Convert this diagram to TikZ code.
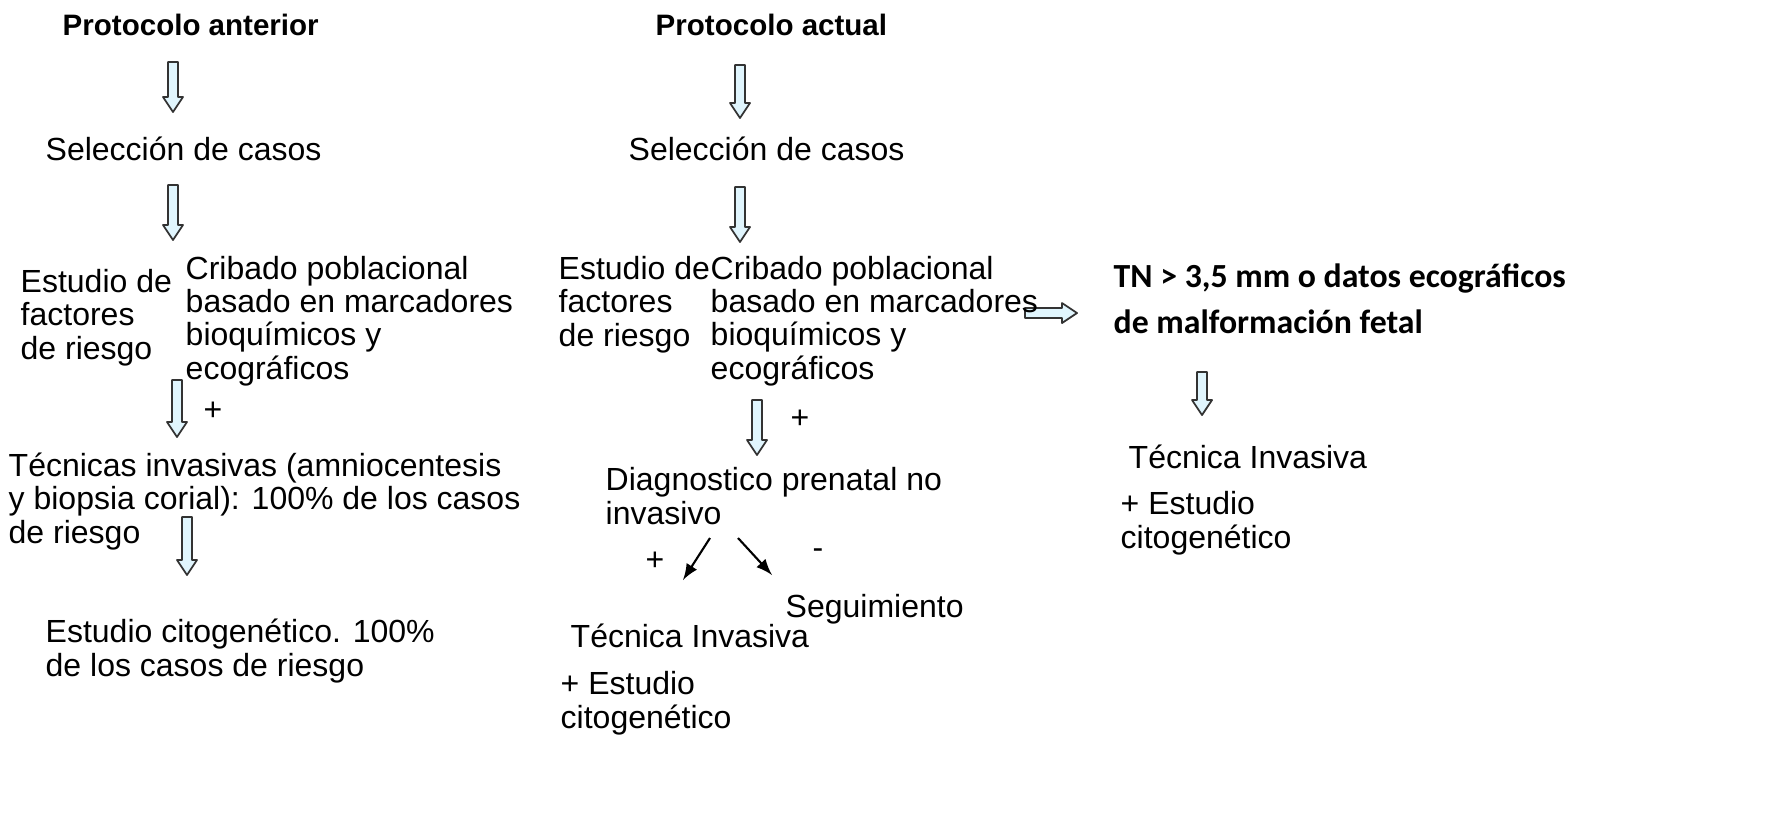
\documentclass[tikz,border=0pt]{standalone}
\usepackage{fontspec}
\setmainfont{Liberation Sans}
\newfontfamily\carlitofont{Carlito}
\begin{document}
\begin{tikzpicture}[x=0.01cm,y=-0.01cm,
  txt/.style={anchor=base west,align=left,inner sep=0pt,font=\fontsize{9.1pt}{9.4pt}\selectfont},
  hd/.style={txt,font=\bfseries\fontsize{8.4pt}{9.4pt}\selectfont},
  tn/.style={txt,font=\carlitofont\bfseries\fontsize{9.6pt}{13pt}\selectfont},
  blk/.style={draw=black!80,fill=cyan!12,line width=0.5pt,line join=round},
  thin/.style={->,>=latex,line width=0.6pt}]
\useasboundingbox (0,0) rectangle (1773,838);
\newcommand\barrow[3]{\path[blk] (#1-5,#2) -- (#1+5,#2) -- (#1+5,#3-15) -- (#1+10,#3-15) -- (#1,#3) -- (#1-10,#3-15) -- (#1-5,#3-15) -- cycle;}
\newcommand\harrow[3]{\path[blk] (#1,#3-5) -- (#2-15,#3-5) -- (#2-15,#3-10) -- (#2,#3) -- (#2-15,#3+10) -- (#2-15,#3+5) -- (#1,#3+5) -- cycle;}
\barrow{173}{62}{112}
\barrow{173}{185}{240}
\barrow{177}{380}{437}
\barrow{187}{517}{575}
\barrow{740}{65}{118}
\barrow{740}{187}{242}
\barrow{757}{400}{455}
\barrow{1202}{372}{415}
\harrow{1025}{1077}{313}
\node[hd] (h1) at (62,35) {Protocolo anterior};
\node[txt] (s1) at (45,160) {Selección de casos};
\node[txt] (e1) at (20,359) {Estudio de\\factores\\de riesgo};
\node[txt] (c1) at (185,379) {Cribado poblacional\\basado en marcadores\\bioquímicos y\\ecográficos};
\node[txt] (p1) at (203,420) {+};
\node[txt] (t1) at (8,543) {Técnicas invasivas (amniocentesis\\y biopsia corial): 100\% de los casos\\de riesgo};
\node[txt] (ec1) at (45,676) {Estudio citogenético. 100\%\\de los casos de riesgo};
\node[hd] (h2) at (655,35) {Protocolo actual};
\node[txt] (s2) at (628,160) {Selección de casos};
\node[txt] (e2) at (558,346) {Estudio de\\factores\\de riesgo};
\node[txt] (c2) at (710,379) {Cribado poblacional\\basado en marcadores\\bioquímicos y\\ecográficos};
\node[txt] (p2) at (790,428) {+};
\node[txt] (d2) at (605,524) {Diagnostico prenatal no\\invasivo};
\node[txt] (p3) at (645,570) {+};
\node[txt] (m3) at (812,558) {-};
\node[txt] (sg) at (785,617) {Seguimiento};
\node[txt] (ti2) at (570,647) {Técnica Invasiva};
\node[txt] (es2) at (560,728) {+ Estudio\\citogenético};
\coordinate (a1) at (710,538); \coordinate (a1e) at (683,580);
\coordinate (a2) at (738,538); \coordinate (a2e) at (772,575);
\draw[thin] (a1) -- (a1e);
\draw[thin] (a2) -- (a2e);
\node[tn] (tn) at (1113,333) {TN > 3,5 mm o datos ecográficos\\de malformación fetal};
\node[txt] (ti3) at (1128,468) {Técnica Invasiva};
\node[txt] (es3) at (1120,548) {+ Estudio\\citogenético};
\end{tikzpicture}
\end{document}
